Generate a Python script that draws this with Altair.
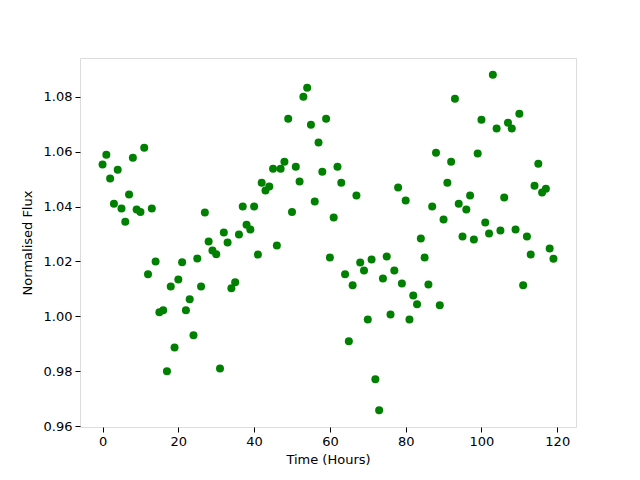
import altair as alt
import pandas as pd

hours = list(range(120))
flux = [
    1.0553, 1.0589, 1.0502, 1.0410, 1.0534, 1.0393, 1.0345, 1.0444, 1.0578, 1.0389,
    1.0380, 1.0614, 1.0153, 1.0393, 1.0200, 1.0015, 1.0022, 0.9800, 1.0109, 0.9887,
    1.0134, 1.0197, 1.0022, 1.0062, 0.9931, 1.0211, 1.0109, 1.0378, 1.0273, 1.0240,
    1.0226, 0.9810, 1.0305, 1.0269, 1.0102, 1.0124, 1.0298, 1.0400, 1.0334, 1.0316,
    1.0400, 1.0225, 1.0487, 1.0458, 1.0473, 1.0538, 1.0258, 1.0538, 1.0563, 1.0720,
    1.0380, 1.0545, 1.0491, 1.0800, 1.0833, 1.0698, 1.0418, 1.0633, 1.0527, 1.0720,
    1.0214, 1.0360, 1.0545, 1.0487, 1.0153, 0.9909, 1.0113, 1.0440, 1.0196, 1.0167,
    0.9989, 1.0207, 0.9771, 0.9658, 1.0138, 1.0218, 1.0007, 1.0167, 1.0469, 1.0120,
    1.0422, 0.9989, 1.0076, 1.0044, 1.0284, 1.0214, 1.0116, 1.0400, 1.0596, 1.0040,
    1.0353, 1.0487, 1.0563, 1.0793, 1.0410, 1.0291, 1.0389, 1.0440, 1.0280, 1.0593,
    1.0716, 1.0342, 1.0302, 1.0880, 1.0684, 1.0313, 1.0433, 1.0705, 1.0684, 1.0316,
    1.0738, 1.0113, 1.0291, 1.0225, 1.0476, 1.0556, 1.0451, 1.0465, 1.0247, 1.0210,
]
x_ticks = [0, 20, 40, 60, 80, 100, 120]
y_ticks = [0.96, 0.98, 1.00, 1.02, 1.04, 1.06, 1.08]

df = pd.DataFrame({"hour": hours, "flux": flux})

font = "DejaVu Sans"

chart = alt.Chart(df).mark_circle(size=64, color="#008000", opacity=1).encode(
    x=alt.X("hour:Q", title="Time (Hours)",
            scale=alt.Scale(domain=[-5.95, 124.95], nice=False, zero=False),
            axis=alt.Axis(values=x_ticks, format="d", grid=False, domain=False,
                          tickColor="black", tickSize=5, labelPadding=3,
                          labelColor="black", titleColor="black",
                          labelFont=font, titleFont=font, labelFontSize=13,
                          titleFontSize=13, titleFontWeight="normal", titlePadding=5)),
    y=alt.Y("flux:Q", title="Normalised Flux",
            scale=alt.Scale(domain=[0.9597, 1.0941], nice=False, zero=False),
            axis=alt.Axis(values=y_ticks, format=".2f", grid=False, domain=False,
                          tickColor="black", tickSize=5, labelPadding=3,
                          labelColor="black", titleColor="black",
                          labelFont=font, titleFont=font, labelFontSize=13,
                          titleFontSize=13, titleFontWeight="normal", titlePadding=9)),
).properties(
    width=496, height=369,
    autosize=alt.AutoSizeParams(type="none"),
    padding={"left": 72, "top": 50, "right": 56, "bottom": 45},
).configure_view(
    stroke="black", strokeWidth=1.1
).configure(background="white")

chart.save("out.html", embed_options={"renderer": "svg", "actions": False})
